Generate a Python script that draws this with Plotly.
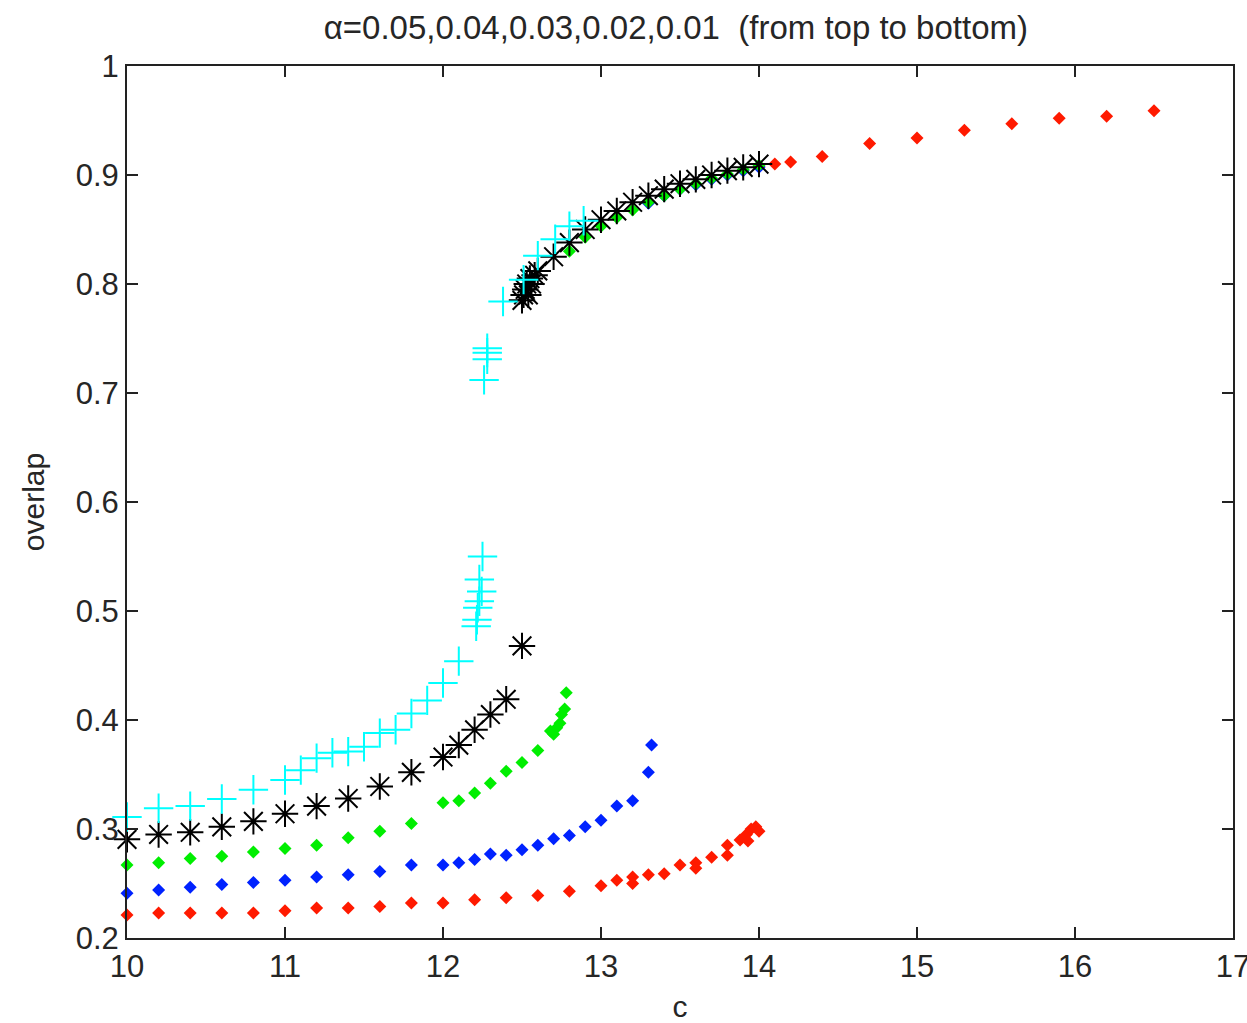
import plotly.graph_objects as go

# ---------------- data ----------------
# alpha = 0.01 (red)
red_lo_c = [10.0, 10.2, 10.4, 10.6, 10.8, 11.0, 11.2, 11.4, 11.6, 11.8, 12.0, 12.2, 12.4, 12.6, 12.8,
            13.0, 13.1, 13.2, 13.2, 13.3, 13.4, 13.5, 13.6, 13.6, 13.7, 13.8, 13.8,
            13.88, 13.92, 13.93, 13.95, 13.98, 14.0]
red_lo_o = [0.221, 0.223, 0.223, 0.223, 0.223, 0.225, 0.2275, 0.2275, 0.229, 0.232, 0.232, 0.235, 0.237, 0.239, 0.243,
            0.248, 0.253, 0.256, 0.250, 0.258, 0.259, 0.267, 0.269, 0.264, 0.274, 0.276, 0.285,
            0.290, 0.295, 0.289, 0.300, 0.302, 0.298]
red_up_c = [14.0, 14.1, 14.2, 14.4, 14.7, 15.0, 15.3, 15.6, 15.9, 16.2, 16.5]
red_up_o = [0.908, 0.910, 0.912, 0.917, 0.929, 0.934, 0.941, 0.947, 0.952, 0.954, 0.959]

# alpha = 0.02 (blue)
blue_lo_c = [10.0, 10.2, 10.4, 10.6, 10.8, 11.0, 11.2, 11.4, 11.6, 11.8, 12.0, 12.1, 12.2, 12.3, 12.4,
             12.5, 12.6, 12.7, 12.8, 12.9, 13.0, 13.1, 13.2, 13.3, 13.32]
blue_lo_o = [0.241, 0.244, 0.2465, 0.249, 0.251, 0.253, 0.256, 0.258, 0.261, 0.267, 0.267, 0.269, 0.272, 0.277, 0.276,
             0.281, 0.285, 0.291, 0.294, 0.302, 0.308, 0.321, 0.326, 0.352, 0.377]
blue_up_c = [13.3, 13.4, 13.5, 13.6, 13.7, 13.8, 13.9, 14.0]
blue_up_o = [0.874, 0.881, 0.887, 0.891, 0.896, 0.900, 0.904, 0.907]

# alpha = 0.03 (green)
green_lo_c = [10.0, 10.2, 10.4, 10.6, 10.8, 11.0, 11.2, 11.4, 11.6, 11.8, 12.0, 12.1, 12.2, 12.3, 12.4,
              12.5, 12.6, 12.68, 12.70, 12.72, 12.74, 12.75, 12.77, 12.78]
green_lo_o = [0.267, 0.269, 0.273, 0.275, 0.279, 0.282, 0.285, 0.292, 0.298, 0.305, 0.324, 0.326, 0.333, 0.342, 0.353,
              0.361, 0.372, 0.390, 0.387, 0.393, 0.397, 0.405, 0.410, 0.425]
green_up_c = [12.8, 12.9, 13.0, 13.1, 13.2, 13.3, 13.4, 13.5, 13.6, 13.7, 13.8, 13.9, 14.0]
green_up_o = [0.830, 0.843, 0.853, 0.861, 0.868, 0.875, 0.881, 0.887, 0.892, 0.897, 0.901, 0.905, 0.909]

# alpha = 0.04 (black)
black_lo_c = [10.0, 10.2, 10.4, 10.6, 10.8, 11.0, 11.2, 11.4, 11.6, 11.8, 12.0, 12.1, 12.2, 12.3, 12.4, 12.5]
black_lo_o = [0.2905, 0.295, 0.297, 0.302, 0.307, 0.314, 0.321, 0.328, 0.339, 0.352, 0.366, 0.377, 0.391, 0.405,
              0.419, 0.468]
black_up_c = [12.5, 12.51, 12.52, 12.53, 12.54, 12.55, 12.56, 12.58, 12.6, 12.7, 12.8, 12.9, 13.0, 13.1, 13.2,
              13.3, 13.4, 13.5, 13.6, 13.7, 13.8, 13.9, 14.0]
black_up_o = [0.785, 0.790, 0.795, 0.800, 0.790, 0.805, 0.800, 0.808, 0.812, 0.825, 0.838, 0.850, 0.859, 0.867, 0.875,
              0.881, 0.887, 0.892, 0.896, 0.900, 0.904, 0.907, 0.910]

# alpha = 0.05 (cyan)
cyan_lo_c = [10.0, 10.2, 10.4, 10.6, 10.8, 11.0, 11.1, 11.2, 11.3, 11.4, 11.5, 11.6, 11.7, 11.8, 11.9, 12.0, 12.1,
             12.21, 12.215, 12.22, 12.23, 12.245, 12.23, 12.25]
cyan_lo_o = [0.311, 0.319, 0.321, 0.3275, 0.336, 0.345, 0.354, 0.365, 0.370, 0.371, 0.3755, 0.388, 0.391, 0.406,
             0.418, 0.434, 0.454, 0.486, 0.492, 0.503, 0.509, 0.518, 0.529, 0.550]
cyan_up_c = [12.26, 12.28, 12.28, 12.28, 12.38, 12.51, 12.60, 12.71, 12.80, 12.89]
cyan_up_o = [0.712, 0.731, 0.737, 0.741, 0.784, 0.804, 0.826, 0.841, 0.853, 0.858]

x_ticks = [10, 11, 12, 13, 14, 15, 16, 17]
y_ticks = [0.2, 0.3, 0.4, 0.5, 0.6, 0.7, 0.8, 0.9, 1.0]
y_tick_text = ["0.2", "0.3", "0.4", "0.5", "0.6", "0.7", "0.8", "0.9", "1"]

title_text = "α=0.05,0.04,0.03,0.02,0.01  (from top to bottom)"

# ---------------- figure ----------------
FONT = "Liberation Sans, Arial, sans-serif"
TXT = "#262626"
fig = go.Figure()

def diamonds(cs, os, color):
    fig.add_trace(go.Scatter(x=cs, y=os, mode="markers", cliponaxis=False, showlegend=False,
                             marker=dict(symbol="diamond", size=10, color=color, line=dict(width=0))))

diamonds(red_lo_c + red_up_c, red_lo_o + red_up_o, "#ff1a00")
diamonds(blue_lo_c + blue_up_c, blue_lo_o + blue_up_o, "#0022ff")
diamonds(green_lo_c + green_up_c, green_lo_o + green_up_o, "#00ee00")

fig.add_trace(go.Scatter(x=black_lo_c + black_up_c, y=black_lo_o + black_up_o, mode="markers",
                         cliponaxis=False, showlegend=False,
                         marker=dict(symbol="asterisk-open", size=22, color="black",
                                     line=dict(width=2, color="black"))))
fig.add_trace(go.Scatter(x=cyan_lo_c + cyan_up_c, y=cyan_lo_o + cyan_up_o, mode="markers",
                         cliponaxis=False, showlegend=False,
                         marker=dict(symbol="cross-thin-open", size=21, color="#00ffff",
                                     line=dict(width=2, color="#00ffff"))))

axis_common = dict(showline=True, linecolor="#222222", linewidth=2, mirror="ticks",
                   ticks="inside", ticklen=11, tickwidth=2, tickcolor="#222222",
                   showgrid=False, zeroline=False, ticklabeloverflow="allow", automargin=False,
                   tickfont=dict(family=FONT, size=31, color=TXT))

fig.update_layout(
    width=1247, height=1023,
    margin=dict(l=127, r=14, t=66, b=85, autoexpand=False),
    paper_bgcolor="white", plot_bgcolor="white",
    title=dict(text=title_text, x=0.542, xanchor="center", y=0.973, yanchor="middle",
               font=dict(family=FONT, size=33, color=TXT)),
    xaxis=dict(range=[10, 17], tickvals=x_ticks, ticktext=[str(t) for t in x_ticks],
               title=dict(text="c", font=dict(family=FONT, size=30, color=TXT), standoff=22),
               **axis_common),
    yaxis=dict(range=[0.2, 1.0], tickvals=y_ticks, ticktext=y_tick_text,
               title=dict(text="overlap", font=dict(family=FONT, size=30, color=TXT), standoff=22),
               **axis_common),
)

fig.write_html("out.html")
